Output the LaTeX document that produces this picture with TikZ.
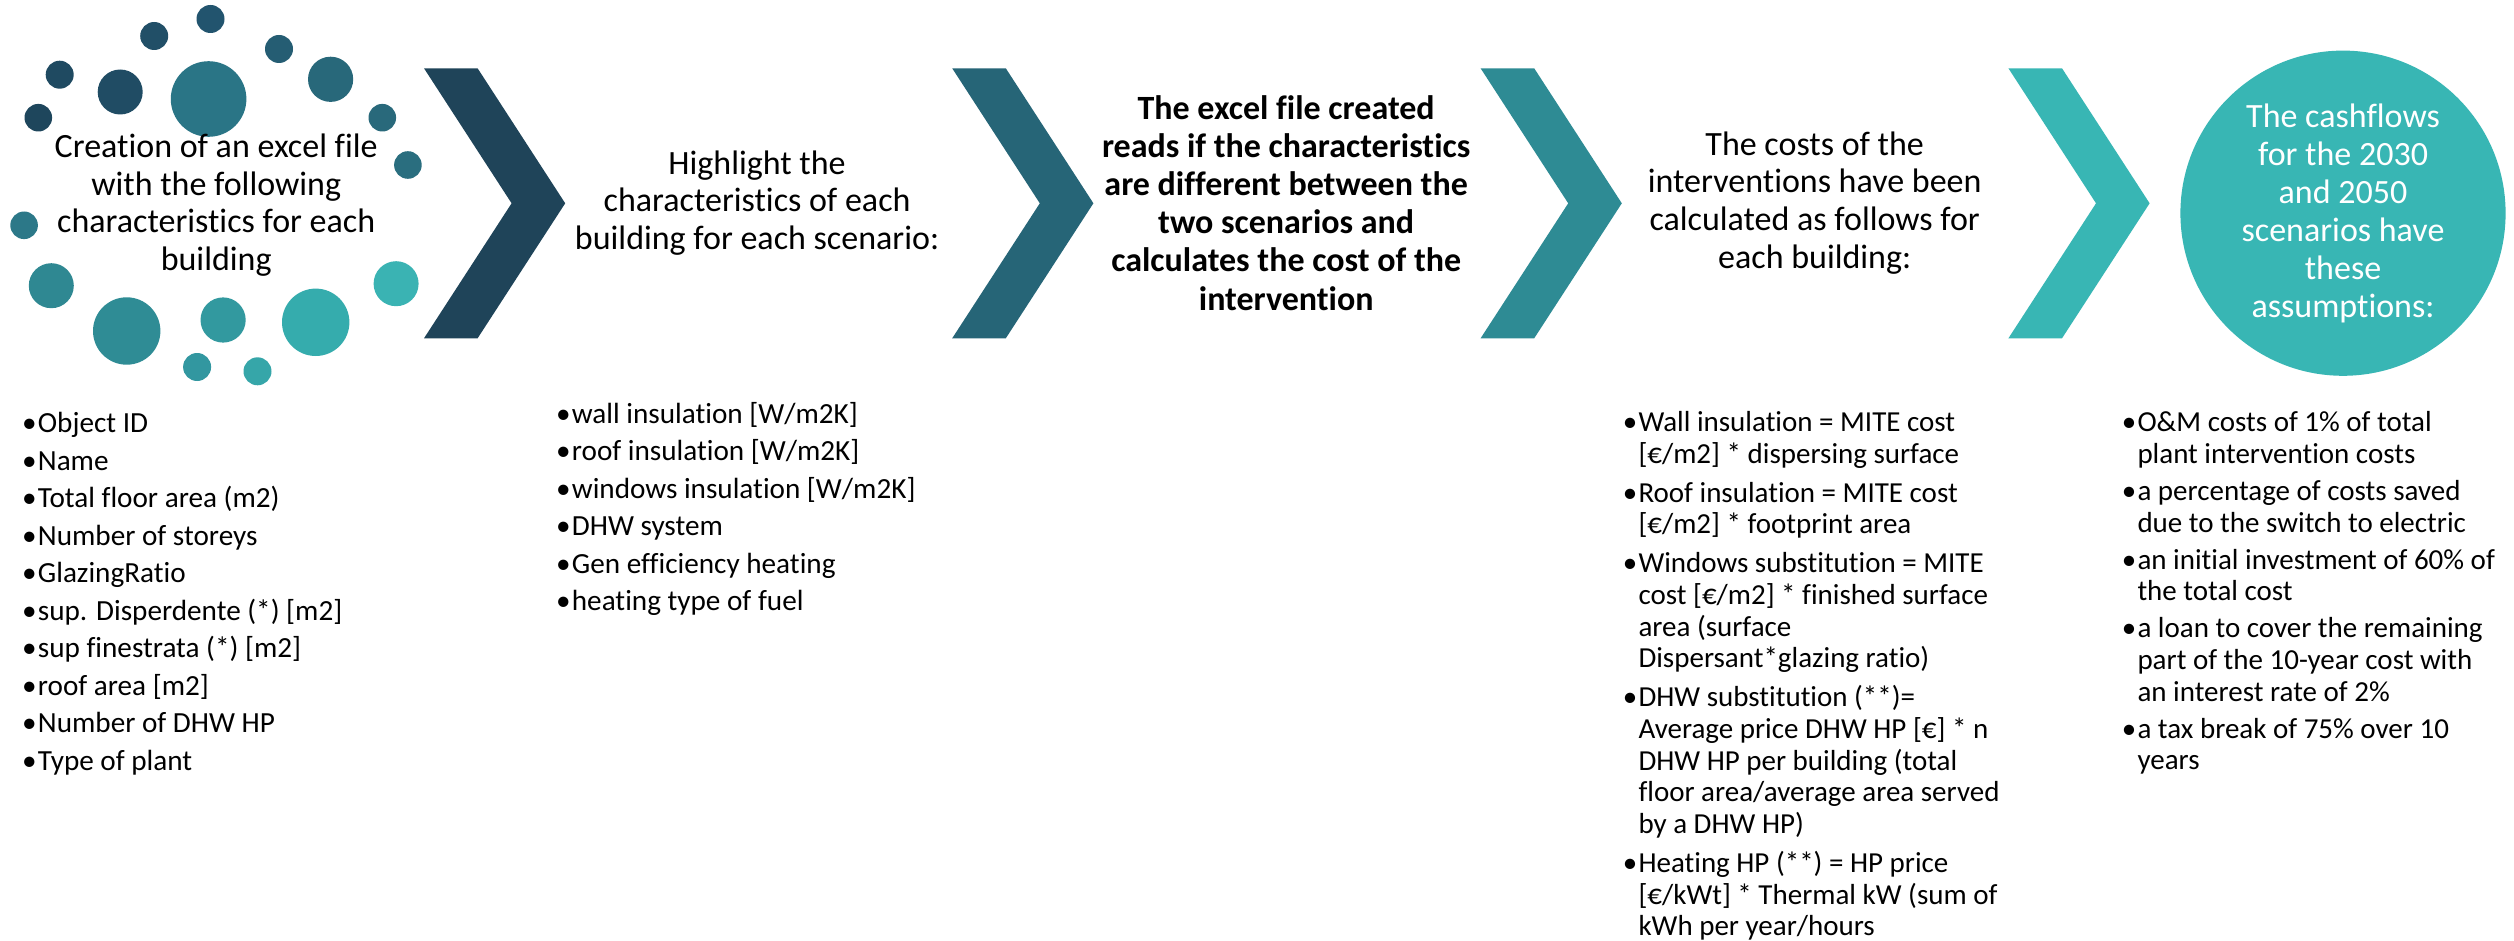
\documentclass[tikz,border=0pt]{standalone}
\usepackage{fontspec}
\setmainfont{Carlito}[RawFeature={-liga;-clig;-dlig;-calt;-hlig}]
\definecolor{cA}{HTML}{1F4459}
\definecolor{cB}{HTML}{266577}
\definecolor{cC}{HTML}{2E8B94}
\definecolor{cD}{HTML}{38B6B4}
\newcommand\bul{\makebox[17pt][c]{•}}
\newcommand\ind{\hspace*{17pt}}
\newcommand\tix{t\kern0pt i}
\newcommand\chev[2]{\fill[#2] (#1,68.3) -- ++(53.6,0) -- ++(87.6,135) -- ++(-87.6,135) -- ++(-53.6,0) -- ++(87.6,-135) -- cycle;}
\begin{document}
\begin{tikzpicture}[x=1pt,y=-1pt,
  head/.style={inner sep=0pt, align=center, text=black, font=\fontsize{34}{37.6}\selectfont},
  listnode/.style={anchor=base west, inner sep=0pt}]
\useasboundingbox (0,0) rectangle (2514,941);
\fill[white] (0,0) rectangle (2514,941);
% circle cluster
\fill[fill={rgb,255:red,34;green,84;blue,110}]  (210.5,19.0) circle[radius=14pt];
\fill[fill={rgb,255:red,33;green,79;blue,103}]  (154.2,36.0) circle[radius=14pt];
\fill[fill={rgb,255:red,37;green,93;blue,115}]  (279.0,49.0) circle[radius=14pt];
\fill[fill={rgb,255:red,31;green,74;blue,97}]   (59.7,74.7) circle[radius=14pt];
\fill[fill={rgb,255:red,32;green,76;blue,100}]  (120.2,92.0) circle[radius=22.5pt];
\fill[fill={rgb,255:red,42;green,117;blue,134}] (208.6,99.0) circle[radius=37.8pt];
\fill[fill={rgb,255:red,40;green,104;blue,122}] (330.6,79.3) circle[radius=22.6pt];
\fill[fill={rgb,255:red,30;green,70;blue,92}]   (38.3,117.7) circle[radius=13.8pt];
\fill[fill={rgb,255:red,41;green,105;blue,123}] (382.3,117.7) circle[radius=13.8pt];
\fill[fill={rgb,255:red,42;green,110;blue,127}] (407.9,165.0) circle[radius=13.8pt];
\fill[fill={rgb,255:red,44;green,120;blue,136}] (24.1,225.3) circle[radius=13.8pt];
\fill[fill={rgb,255:red,47;green,136;blue,146}] (51.3,285.7) circle[radius=22.5pt];
\fill[fill={rgb,255:red,58;green,179;blue,179}] (396.1,283.7) circle[radius=22.5pt];
\fill[fill={rgb,255:red,47;green,140;blue,149}] (126.7,331.0) circle[radius=33.7pt];
\fill[fill={rgb,255:red,50;green,153;blue,159}] (223.1,320.0) circle[radius=22.6pt];
\fill[fill={rgb,255:red,53;green,172;blue,173}] (315.7,322.3) circle[radius=33.7pt];
\fill[fill={rgb,255:red,50;green,151;blue,160}] (197.1,367.0) circle[radius=14pt];
\fill[fill={rgb,255:red,54;green,166;blue,169}] (257.5,371.3) circle[radius=14pt];
% chevrons
\chev{424}{cA}
\chev{952.2}{cB}
\chev{1480.6}{cC}
\chev{2008.4}{cD}
% headings
\node[head] (t1) at (216.2,205) {Crea\tix on of an excel file\\with the following\\characteris\tix cs for each\\building};
\node[head] (t2) at (757.1,202.9) {Highlight the\\characteris\tix cs of each\\building for each scenario:};
\node[head, font=\bfseries\fontsize{34}{38.2}\selectfont] (t3) at (1286.2,202.8) {The excel file created\\reads if the characteris\tix cs\\are different between the\\two scenarios and\\calculates the cost of the\\interven\tix on};
\node[head] (t4) at (1814.7,202.9) {The costs of the\\interven\tix ons have been\\calculated as follows for\\each building:};
\node[circle, fill=cD, inner sep=0pt, minimum size=325.2pt, align=center, text=white, font=\fontsize{34}{38}\selectfont] (t5) at (2343,213.2) {The cashflows\\for the 2030\\and 2050\\scenarios have\\these\\assump\tix ons:};
% lists
\node[listnode] (l1) at (20.7,432.7) {\parbox[t]{500pt}{\fontsize{29.2}{37.5}\selectfont\raggedright
\bul Object ID\\
\bul Name\\
\bul Total floor area (m2)\\
\bul Number of storeys\\
\bul GlazingRa\tix o\\
\bul sup. Disperdente (*) [m2]\\
\bul sup finestrata (*) [m2]\\
\bul roof area [m2]\\
\bul Number of DHW HP\\
\bul Type of plant}};
\node[listnode] (l2) at (554.7,423.3) {\parbox[t]{500pt}{\fontsize{29.2}{37.5}\selectfont\raggedright
\bul wall insula\tix on [W/m2K]\\
\bul roof insula\tix on [W/m2K]\\
\bul windows insula\tix on [W/m2K]\\
\bul DHW system\\
\bul Gen efficiency heating\\
\bul heating type of fuel}};
\node[listnode] (l3) at (1621.3,431.7) {\parbox[t]{500pt}{\fontsize{29}{31.8}\selectfont\raggedright
\bul Wall insula\tix on = MITE cost\\
\ind [€/m2] * dispersing surface\\[6.8pt]
\bul Roof insula\tix on = MITE cost\\
\ind [€/m2] * footprint area\\[6.8pt]
\bul Windows subs\tix tu\tix on = MITE\\
\ind cost [€/m2] * finished surface\\
\ind area (surface\\
\ind Dispersant*glazing ra\tix o)\\[6.8pt]
\bul DHW subs\tix tu\tix on (**)=\\
\ind Average price DHW HP [€] * n\\
\ind DHW HP per building (total\\
\ind floor area/average area served\\
\ind by a DHW HP)\\[6.8pt]
\bul Heating HP (**) = HP price\\
\ind [€/kWt] * Thermal kW (sum of\\
\ind kWh per year/hours}};
\node[listnode] (l4) at (2120.3,431.7) {\parbox[t]{500pt}{\fontsize{29}{31.7}\selectfont\raggedright
\bul O\&M costs of 1\% of total\\
\ind plant interven\tix on costs\\[5.3pt]
\bul a percentage of costs saved\\
\ind due to the switch to electric\\[5.3pt]
\bul an ini\tix al investment of 60\% of\\
\ind the total cost\\[5.3pt]
\bul a loan to cover the remaining\\
\ind part of the 10-year cost with\\
\ind an interest rate of 2\%\\[5.3pt]
\bul a tax break of 75\% over 10\\
\ind years}};
\end{tikzpicture}
\end{document}
